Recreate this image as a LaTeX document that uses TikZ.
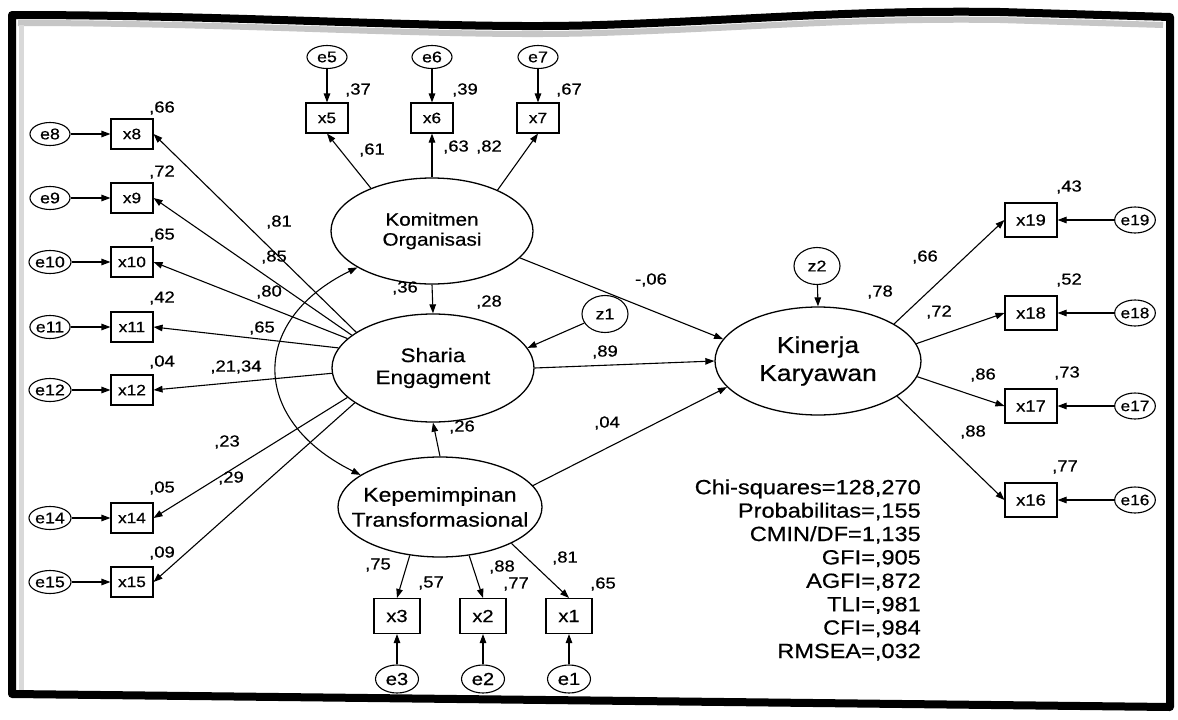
\documentclass[tikz,border=0pt]{standalone}
\usepackage{fontspec}
\setmainfont[FakeStretch=1.15,FakeBold=0.6]{Liberation Sans}
\usetikzlibrary{arrows.meta,shapes.geometric}
\begin{document}
\begin{tikzpicture}[x=1pt,y=-1pt,
  lat/.style={ellipse, draw, line width=1.3pt, inner sep=0pt},
  lattxt/.style={align=center, inner sep=0pt},
  obs/.style={rectangle, draw, line width=1.1pt, minimum width=42pt, minimum height=30pt,
    inner sep=0pt, font=\fontsize{15}{15}\selectfont},
  obsB/.style={obs, minimum width=46pt, minimum height=35pt, font=\fontsize{17.5}{17.5}\selectfont},
  obsR/.style={obs, minimum width=52pt, minimum height=34pt, font=\fontsize{16}{16}\selectfont},
  err/.style={ellipse, draw, line width=1.1pt, minimum width=40pt, minimum height=23pt,
    inner sep=0pt, font=\fontsize{15.5}{15.5}\selectfont},
  errB/.style={err, minimum width=43pt, minimum height=28pt, font=\fontsize{17.5}{17.5}\selectfont},
  errR/.style={err, minimum width=36pt, minimum height=26pt, font=\fontsize{15}{15}\selectfont},
  dist/.style={ellipse, draw, line width=1.1pt, minimum width=46pt, minimum height=37pt,
    inner sep=0pt, font=\fontsize{15.5}{15.5}\selectfont},
  lbl/.style={inner sep=0pt, font=\fontsize{16}{16}\selectfont},
  conn/.style={-{Triangle[length=9pt,width=6.5pt]}, line width=1.1pt},
  corr/.style={{Triangle[length=9pt,width=6.5pt]}-{Triangle[length=9pt,width=6.5pt]}, line width=1.1pt},
  stats/.style={align=right, inner sep=0pt, font=\fontsize{20.5}{23.4}\selectfont}]

\useasboundingbox (0,0) rectangle (1178,720);
\fill[white] (0,0) rectangle (1178,720);

% photocopied page frame with its shadow band
\draw[gray!45, line width=6pt] (18,23) .. controls (250,23) and (450,38) .. (600,33)
  .. controls (750,28) and (850,18) .. (1000,20) -- (1163,25);
\draw[gray!30, line width=5pt] (21,25) -- (21,690);
\draw[black, line width=8pt, line join=round]
  (12,15) .. controls (250,15) and (450,30) .. (600,25)
  .. controls (750,20) and (850,10) .. (1000,12) -- (1170,17) -- (1170,707) -- (12,694) -- cycle;

% latent variables
\node[lat, minimum width=202pt, minimum height=106pt] (ko) at (432,231) {};
\node[lattxt, font=\fontsize{18}{20}\selectfont] (ko-t) at (ko) {Komitmen\\Organisasi};
\node[lat, minimum width=202pt, minimum height=108pt] (se) at (433,368) {};
\node[lattxt, font=\fontsize{19.5}{22}\selectfont] (se-t) at (se) {Sharia\\Engagment};
\node[lat, minimum width=204pt, minimum height=100pt] (kt) at (440,507) {};
\node[lattxt, font=\fontsize{20}{25}\selectfont] (kt-t) at (kt) {Kepemimpinan\\Transformasional};
\node[lat, minimum width=206pt, minimum height=108pt] (kk) at (818,361) {};
\node[lattxt, font=\fontsize{23}{28}\selectfont] (kk-t) at (kk) {Kinerja\\Karyawan};

% disturbances
\node[dist] (z1) at (605,314) {z1};
\node[dist] (z2) at (817,266) {z2};

% indicators of Komitmen Organisasi
\foreach \n/\x in {5/327, 6/432, 7/538} {
  \node[obs] (x\n) at (\x,118) {x\n};
  \node[err] (e\n) at (\x,57) {e\n};
  \draw[conn] (e\n) -- (x\n);
}
% indicators of Sharia Engagment
\foreach \n/\y in {8/134, 9/198, 10/262, 11/327, 12/390, 14/518, 15/582} {
  \node[obs] (x\n) at (132,\y) {x\n};
  \node[err] (e\n) at (50,\y) {e\n};
  \draw[conn] (e\n) -- (x\n);
}
% indicators of Kepemimpinan Transformasional
\foreach \n/\x in {3/397, 2/483, 1/569} {
  \node[obsB] (x\n) at (\x,616) {x\n};
  \node[errB] (e\n) at (\x,679) {e\n};
  \draw[conn] (e\n) -- (x\n);
}
% indicators of Kinerja Karyawan
\foreach \n/\y in {19/220, 18/313, 17/406, 16/500} {
  \node[obsR] (x\n) at (1031,\y) {x\n};
  \node[errR] (e\n) at (1135,\y) {e\n};
  \draw[conn] (e\n) -- (x\n);
}

% loadings
\draw[conn] (ko.145) -- (x5.south);
\draw[conn] (ko.north) -- (x6.south);
\draw[conn] (ko.32) -- (x7.south);
\foreach \n/\a in {8/155, 9/158, 10/161, 11/168, 12/183, 14/199, 15/204}
  \draw[conn] (se.\a) -- (x\n.east);
\draw[conn] (kt.238) -- (x3.north);
\draw[conn] (kt.301) -- (x2.north);
\draw[conn] (kt.333) -- (x1.north);
\draw[conn] (kk.26) -- (x19.west);
\draw[conn] (kk.10) -- (x18.west);
\draw[conn] (kk.-9) -- (x17.west);
\draw[conn] (kk.-24) -- (x16.west);

% structural paths
\draw[conn] (ko.south) -- (se.north);
\draw[conn] (kt.north) -- (se.south);
\draw[conn] (z1) -- (se.12);
\draw[conn] (z2) -- (kk.north);
\draw[conn] (ko.-17) -- (kk.167);
\draw[conn] (se.east) -- (kk.west);
\draw[conn] (kt.13) -- (kk.196);
\draw[corr] (ko.206) .. controls +(-108,53) and +(-111,-55) .. (kt.158);

% squared multiple correlations and estimates
\node[lbl] (r5) at (358,90) {,37};
\node[lbl] (r6) at (465,90) {,39};
\node[lbl] (r7) at (569,90) {,67};
\node[lbl] (l5) at (372,150) {,61};
\node[lbl] (l6) at (456,147) {,63};
\node[lbl] (l7) at (489,147) {,82};

\node[lbl] (r8) at (162,108) {,66};
\node[lbl] (r9) at (162,172) {,72};
\node[lbl] (r10) at (162,235) {,65};
\node[lbl] (r11) at (162,298) {,42};
\node[lbl] (r12) at (162,362) {,04};
\node[lbl] (r14) at (162,488) {,05};
\node[lbl] (r15) at (162,553) {,09};

\node[lbl] (l8) at (279,222) {,81};
\node[lbl] (l9) at (274,257) {,85};
\node[lbl] (l10) at (269,292) {,80};
\node[lbl] (l11) at (262,328) {,65};
\node[lbl] (l12) at (236,367) {,21,34};
\node[lbl] (l14) at (227,442) {,23};
\node[lbl] (l15) at (231,478) {,29};

\node[lbl] (p1) at (405,288) {,36};
\node[lbl] (rse) at (489,302) {,28};
\node[lbl] (p2) at (462,427) {,26};
\node[lbl] (p3) at (605,352) {,89};
\node[lbl] (p4) at (607,423) {,04};
\node[lbl] (p5) at (651,280) {-,06};
\node[lbl] (rkk) at (880,292) {,78};

\node[lbl] (r19) at (1069,187) {,43};
\node[lbl] (r18) at (1069,280) {,52};
\node[lbl] (r17) at (1067,373) {,73};
\node[lbl] (r16) at (1065,467) {,77};
\node[lbl] (l19) at (925,257) {,66};
\node[lbl] (l18) at (939,312) {,72};
\node[lbl] (l17) at (983,375) {,86};
\node[lbl] (l16) at (973,432) {,88};

\node[lbl] (l3) at (378,565) {,75};
\node[lbl] (r3) at (431,583) {,57};
\node[lbl] (l2) at (502,567) {,88};
\node[lbl] (r2) at (516,584) {,77};
\node[lbl] (l1) at (565,558) {,81};
\node[lbl] (r1) at (603,584) {,65};

% fit indices
\node[stats, anchor=east] (fit) at (921,570)
  {Chi-squares=128,270\\Probabilitas=,155\\CMIN/DF=1,135\\GFI=,905\\AGFI=,872\\TLI=,981\\CFI=,984\\RMSEA=,032};
\end{tikzpicture}
\end{document}
